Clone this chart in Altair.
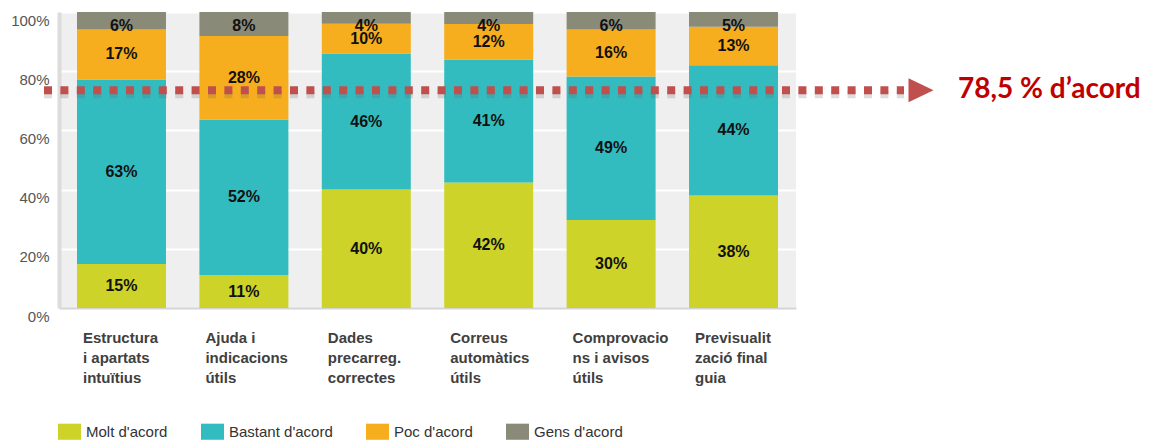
import altair as alt
import pandas as pd

# ---- data ----
categories = [
    "Estructura|i apartats|intuïtius",
    "Ajuda i|indicacions|útils",
    "Dades|precarreg.|correctes",
    "Correus|automàtics|útils",
    "Comprovacio|ns i avisos|útils",
    "Previsualit|zació final|guia",
]
levels = ["Molt d'acord", "Bastant d'acord", "Poc d'acord", "Gens d'acord"]
molt = [15, 11, 40, 42, 30, 38]
bastant = [63, 52, 46, 41, 49, 44]
poc = [17, 28, 10, 12, 16, 13]
gens = [6, 8, 4, 4, 6, 5]
colors = ["#cdd329", "#33bcbf", "#f7ae1e", "#8a8a79"]
y_ticks = [0, 0.1, 0.2, 0.3, 0.4, 0.5, 0.6, 0.7, 0.8, 0.9, 1.0]
threshold_label = "78,5 % d’acord"
threshold_line = [0.736]

rows = []
for i, c in enumerate(categories):
    for k, (lvl, vals) in enumerate(zip(levels, [molt, bastant, poc, gens])):
        rows.append({"cat": c, "level": lvl, "order": k,
                     "value": vals[i], "label": f"{vals[i]}%"})
df = pd.DataFrame(rows)
ann = pd.DataFrame({"y": threshold_line, "t": [threshold_label]})

FONT = "Liberation Sans"
RED = "#c0504d"

base = alt.Chart(df).transform_stack(
    stack="value", groupby=["cat"], sort=[alt.SortField("order")],
    as_=["y0", "y1"], offset="normalize",
).transform_calculate(mid="min((datum.y0 + datum.y1) / 2, 0.953)")

x_enc = alt.X(
    "cat:N", sort=categories, title=None,
    scale=alt.Scale(paddingInner=0.273, paddingOuter=0.147),
    axis=alt.Axis(
        labelExpr="split(datum.label, '|')", labelAlign="left", labelOffset=-38.5,
        labelBaseline="top", labelPadding=22, labelLineHeight=20, labelFont=FONT,
        labelFontSize=15, labelFontWeight="bold", labelColor="#404040",
        ticks=False, tickSize=0, domainColor="#d4d4d4", domainWidth=2,
        labelAngle=0, grid=False, labelOverlap=False,
    ),
)
y_scale = alt.Scale(domain=[0, 1])

bars = base.mark_bar().encode(
    x=x_enc,
    y=alt.Y("y0:Q", scale=y_scale, title=None, axis=alt.Axis(
        values=y_ticks,
        labelExpr="round(datum.value*100) % 20 == 0 ? round(datum.value*100) + '%' : ''",
        labelFont=FONT, labelFontSize=15, labelColor="#555555", labelPadding=10,
        labelOffset=8, ticks=False, tickSize=0, gridColor="#ffffff", gridWidth=1.8,
        domainColor="#dcdcdc", domainWidth=4, title=None,
    )),
    y2="y1:Q",
    color=alt.Color("level:N", scale=alt.Scale(domain=levels, range=colors),
                    legend=alt.Legend(
                        title=None, orient="none", legendX=-1, legendY=408,
                        direction="horizontal", symbolType="M-1,-0.7H1V0.7H-1Z",
                        symbolSize=529, symbolStrokeWidth=0, labelFont=FONT,
                        labelFontSize=15, labelColor="#333333", labelOffset=5,
                        columnPadding=33, padding=0, symbolOpacity=1)),
    order=alt.Order("order:Q"),
)

text = base.mark_text(font=FONT, fontSize=16, fontWeight="bold", color="#111111").encode(
    x=x_enc,
    y=alt.Y("mid:Q", scale=y_scale, title=None),
    text="label:N",
)

rule_shadow = alt.Chart(ann).mark_rule(
    color="#666666", opacity=0.22, strokeWidth=8, strokeDash=[8, 8.4], yOffset=4
).encode(x=alt.value(-15), x2=alt.value(845), y=alt.Y("y:Q", scale=y_scale, title=None))

rule = alt.Chart(ann).mark_rule(
    color=RED, strokeWidth=8, strokeDash=[8, 8.4]
).encode(x=alt.value(-15), x2=alt.value(845), y=alt.Y("y:Q", scale=y_scale, title=None))

arrow = alt.Chart(ann).mark_point(
    shape="M-1,-0.96L1,0L-1,0.96Z", size=625, filled=True, color=RED, opacity=1, strokeWidth=0
).encode(x=alt.value(862), y=alt.Y("y:Q", scale=y_scale, title=None))

label = alt.Chart(ann).mark_text(
    align="left", font="Lato", fontSize=28, fontWeight="bold", color="#c00000"
).encode(x=alt.value(899), y=alt.Y("y:Q", scale=y_scale, title=None), text="t:N")

chart = alt.layer(bars, text, rule_shadow, rule, arrow, label).properties(
    width=737, height=296,
    padding={"left": 2, "top": 4, "right": 0, "bottom": 0},
).configure_view(fill="#efefef", strokeWidth=0)

chart.save("out.html", embed_options={"renderer": "svg", "actions": False})
